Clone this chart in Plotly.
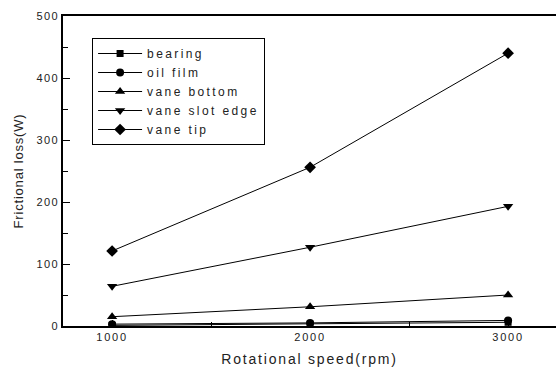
import plotly.graph_objects as go

# Rotational speed (rpm) and frictional loss (W) per component
speed = [1000, 2000, 3000]
bearing = [1, 3, 6]
oil_film = [3, 5, 9]
vane_bottom = [15, 31, 50]
vane_slot_edge = [64, 127, 193]
vane_tip = [121, 256, 440]

series_names = ["bearing", "oil film", "vane bottom", "vane slot edge", "vane tip"]
series_values = [bearing, oil_film, vane_bottom, vane_slot_edge, vane_tip]
symbols = ["square", "circle", "triangle-up", "triangle-down", "diamond"]
sizes = [7, 8, 9, 9, 9]

x_ticks = [1000, 2000, 3000]
y_ticks = [0, 100, 200, 300, 400, 500]

FONT = "Liberation Sans, Arial, sans-serif"


def spaced(text, px):
    return f'<span style="letter-spacing:{px}px">{text}</span>'


fig = go.Figure()
for name, vals, sym, sz in zip(series_names, series_values, symbols, sizes):
    fig.add_trace(go.Scatter(
        x=speed, y=vals, name=spaced(name, 2.4), mode="lines+markers",
        line=dict(color="black", width=1),
        marker=dict(symbol=sym, size=sz, color="black"),
    ))

fig.update_layout(
    width=556, height=370,
    margin=dict(l=63, r=0, t=16, b=44),
    paper_bgcolor="white", plot_bgcolor="white",
    font=dict(family=FONT, color="#222", size=11),
    showlegend=True,
    legend=dict(
        x=0.059, y=0.929, xanchor="left", yanchor="top",
        bordercolor="black", borderwidth=1, bgcolor="white",
        font=dict(size=12, color="#222"),
        tracegroupgap=0, itemwidth=44,
    ),
    xaxis=dict(
        range=[752, 3242],
        tickvals=x_ticks, ticktext=[spaced(str(v), 1.8) for v in x_ticks],
        ticks="inside", ticklen=6, tickwidth=1, tickcolor="black",
        minor=dict(ticks="inside", dtick=500, tick0=0, ticklen=4, tickcolor="black"),
        showline=True, linecolor="black", linewidth=1.5, mirror=True,
        showgrid=False, zeroline=False,
        tickfont=dict(size=11, color="#222"),
        title=dict(text=spaced("Rotational speed(rpm)", 1.8), font=dict(size=14, color="#222"), standoff=12),
    ),
    yaxis=dict(
        range=[0, 500],
        tickvals=y_ticks, ticktext=[spaced(str(v), 1.4) for v in y_ticks],
        ticks="inside", ticklen=7, tickwidth=1, tickcolor="black",
        minor=dict(ticks="inside", dtick=50, tick0=0, ticklen=5, tickcolor="black"),
        showline=True, linecolor="black", linewidth=1.5, mirror=False,
        showgrid=False, zeroline=False,
        tickfont=dict(size=11, color="#222"),
        title=dict(text=spaced("Frictional loss(W)", 0.8), font=dict(size=13, color="#222"), standoff=10),
    ),
)

fig.write_html("out.html")
